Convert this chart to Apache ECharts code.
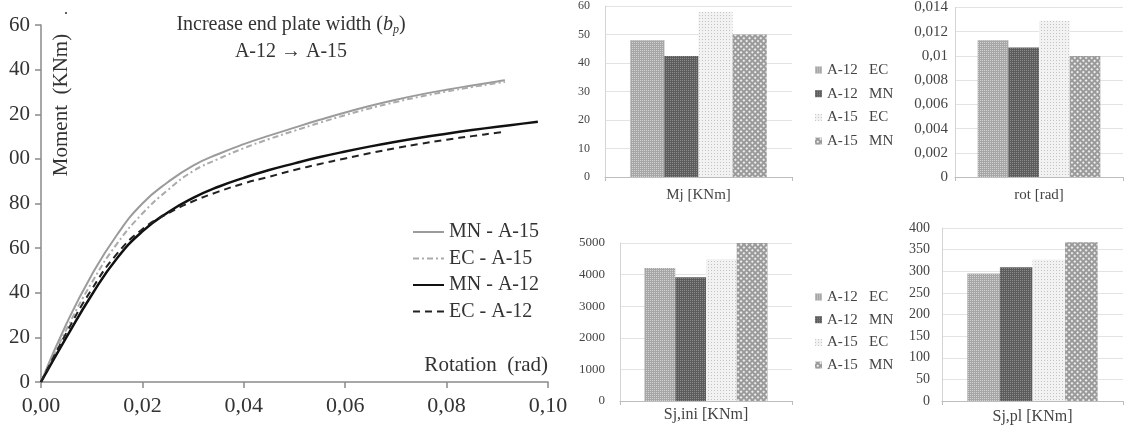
<!DOCTYPE html>
<html>
<head>
<meta charset="utf-8">
<script src="https://cdn.jsdelivr.net/npm/echarts@6.0.0/dist/echarts.min.js"></script>
<style>
  html, body { margin: 0; padding: 0; background: #fff; }
  #chart { width: 1131px; height: 438px; }
</style>
</head>
<body>
<div id="chart"></div>
<script>
// moment-rotation curves [rotation (rad), moment (KNm)]
var mnA15 = [[0,0],[0.005,26],[0.01,48],[0.015,66],[0.02,80],[0.025,89.5],[0.03,97],[0.035,102.2],[0.04,106.6],[0.045,110.4],[0.05,114],[0.055,117.5],[0.06,120.8],[0.065,123.8],[0.07,126.5],[0.075,128.9],[0.08,131],[0.085,132.9],[0.09,134.7],[0.0915,135.2]];
var ecA15 = [[0,0],[0.005,23.5],[0.01,44.5],[0.015,62],[0.02,75.5],[0.025,86],[0.03,94.5],[0.035,100],[0.04,104.8],[0.045,108.9],[0.05,112.6],[0.055,116.2],[0.06,119.6],[0.065,122.7],[0.07,125.5],[0.075,128],[0.08,130.2],[0.085,132.2],[0.09,134],[0.0915,134.5]];
var mnA12 = [[0,0],[0.005,20],[0.01,39],[0.015,55.5],[0.02,67.5],[0.025,76],[0.03,82.5],[0.035,87.5],[0.04,91.5],[0.045,95],[0.05,98],[0.055,100.8],[0.06,103.3],[0.065,105.6],[0.07,107.7],[0.075,109.6],[0.08,111.3],[0.085,112.9],[0.09,114.4],[0.095,115.8],[0.098,116.6]];
var ecA12 = [[0,0],[0.005,22],[0.01,41.5],[0.015,57.5],[0.02,68.5],[0.025,75.5],[0.03,81],[0.035,85.3],[0.04,89],[0.045,92],[0.05,95],[0.055,97.7],[0.06,100.2],[0.065,102.6],[0.07,104.8],[0.075,106.8],[0.08,108.6],[0.085,110.2],[0.09,111.7],[0.0915,112.1]];
var lineNames = ['MN - A-15', 'EC - A-15', 'MN - A-12', 'EC - A-12'];

// bar charts
var barNames = ['A-12   EC', 'A-12   MN', 'A-15   EC', 'A-15   MN'];
var barCategories = ['Mj [KNm]', 'rot [rad]', 'Sj,ini [KNm]', 'Sj,pl [KNm]'];
var mjValues = [48, 42.5, 58, 50];
var rotValues = [0.0113, 0.0107, 0.0129, 0.0100];
var sjIniValues = [4210, 3920, 4490, 5000];
var sjPlValues = [295, 309, 327, 367];

var serif = 'Liberation Serif';
var txt = '#333';

var barStyles = [
    {color: '#a6a6a6', decal: {symbol: 'rect', symbolSize: 1, color: '#d2d2d2', dashArrayX: [1, 1], dashArrayY: [1, 1]}},
    {color: '#5c5c5c', decal: {symbol: 'rect', symbolSize: 1, color: '#8c8c8c', dashArrayX: [1, 1], dashArrayY: [1, 1]}},
    {color: '#f2f2f2', decal: {symbol: 'rect', symbolSize: 1, color: '#c4c4c4', dashArrayX: [1, 2], dashArrayY: [1, 2]}},
    {color: '#9a9a9a', decal: {symbol: 'rect', symbolSize: 1, color: '#ececec', dashArrayX: [2, 2], dashArrayY: [2, 2], rotation: Math.PI / 4}}
];
var barGaps = ['27%', '27%', '28.5%', '28%'];

var chart = echarts.init(document.getElementById('chart'), null, {renderer: 'canvas'});

var grids = [
    {left: 41, right: 583, top: 25, bottom: 56},
    {left: 605, right: 339, top: 3, bottom: 261},
    {left: 955, right: 8, top: 3, bottom: 261},
    {left: 620, right: 339, top: 243, bottom: 37},
    {left: 942, right: 8, top: 228, bottom: 37}
];

var xAxes = [{
    type: 'value', gridIndex: 0, min: 0, max: 0.1, interval: 0.02,
    axisLine: {lineStyle: {color: '#8a8a8a', width: 1.5}},
    axisTick: {length: 6, lineStyle: {color: '#8a8a8a', width: 1.5}},
    splitLine: {show: false},
    axisLabel: {margin: 13, fontFamily: serif, fontSize: 22, color: txt,
        formatter: function (v) { return v.toFixed(2).replace('.', ','); }}
}];
var yAxes = [{
    type: 'value', gridIndex: 0, min: 0, max: 160, interval: 20,
    axisLine: {show: true, lineStyle: {color: '#8a8a8a', width: 1.5}},
    axisTick: {show: true, length: 6, lineStyle: {color: '#8a8a8a', width: 1.5}},
    splitLine: {show: false},
    axisLabel: {margin: 11, fontFamily: serif, fontSize: 21, color: txt,
        // the left edge of the figure cuts the leading "1" off 100..160
        formatter: function (v) { return v >= 100 ? String(v).slice(1) : String(v); }}
}];

var barAxisCfg = [
    {max: 60, interval: 10, size: 12, margin: 15, catSize: 15, catMargin: 11},
    {max: 0.014, interval: 0.002, size: 15, margin: 7, catSize: 15, catMargin: 11},
    {max: 5000, interval: 1000, size: 13, margin: 15, catSize: 16, catMargin: 6},
    {max: 400, interval: 50, size: 14, margin: 12, catSize: 16, catMargin: 8}
];
barAxisCfg.forEach(function (c, k) {
    xAxes.push({
        type: 'category', gridIndex: k + 1, data: [barCategories[k]],
        axisLine: {lineStyle: {color: '#bdbdbd'}},
        axisTick: {show: true, length: 4, lineStyle: {color: '#bdbdbd'}},
        axisLabel: {margin: c.catMargin, fontFamily: serif, fontSize: c.catSize, color: '#444'}
    });
    yAxes.push({
        type: 'value', gridIndex: k + 1, min: 0, max: c.max, interval: c.interval,
        axisLine: {show: true, lineStyle: {color: '#d4d4d4'}},
        axisTick: {show: false},
        splitLine: {lineStyle: {color: '#e3e3e3'}},
        axisLabel: {margin: c.margin, fontFamily: serif, fontSize: c.size, color: '#444',
            formatter: function (v) { return String(+v.toFixed(4)).replace('.', ','); }}
    });
});

function curve(name, data, color, width, dash, z) {
    return {
        name: name, type: 'line', data: data, smooth: true,
        symbol: 'circle', showSymbol: false,
        lineStyle: {color: color, width: width, type: dash}, itemStyle: {color: color}, z: z
    };
}
var series = [
    curve(lineNames[0], mnA15, '#9b9b9b', 2, 'solid', 3),
    curve(lineNames[1], ecA15, '#ababab', 2, [6, 3, 2, 3], 4),
    curve(lineNames[2], mnA12, '#111', 2.5, 'solid', 5),
    curve(lineNames[3], ecA12, '#222', 2, [7, 5], 6)
];

var barData = [mjValues, rotValues, sjIniValues, sjPlValues];
barData.forEach(function (vals, k) {
    barNames.forEach(function (name, i) {
        series.push({
            name: name, type: 'bar', xAxisIndex: k + 1, yAxisIndex: k + 1,
            data: [vals[i]], barGap: '0%', barCategoryGap: barGaps[k],
            itemStyle: barStyles[i]
        });
    });
});

var option = {
    animation: false,
    backgroundColor: '#fff',
    grid: grids,
    xAxis: xAxes,
    yAxis: yAxes,
    legend: [
        {data: lineNames, orient: 'vertical', left: 407, top: 217, itemWidth: 31, itemHeight: 14, itemGap: 6.5,
            itemStyle: {opacity: 0},
            textStyle: {fontFamily: serif, fontSize: 20, lineHeight: 20, color: txt}},
        {data: barNames, orient: 'vertical', left: 810, top: 57, icon: 'rect', itemWidth: 7, itemHeight: 7, itemGap: 7.7,
            textStyle: {fontFamily: serif, fontSize: 15, lineHeight: 16, color: '#444'}},
        {data: barNames, orient: 'vertical', left: 810, top: 284, icon: 'rect', itemWidth: 7, itemHeight: 7, itemGap: 6.7,
            textStyle: {fontFamily: serif, fontSize: 15, lineHeight: 16, color: '#444'}}
    ],
    graphic: [
        {type: 'text', x: 291, y: 25, style: {
            text: 'Increase end plate width ({i|b}{s|p})', fontFamily: serif, fontSize: 20, fill: txt,
            align: 'center', verticalAlign: 'middle',
            rich: {
                i: {fontFamily: serif, fontSize: 20, fontStyle: 'italic', fill: txt},
                s: {fontFamily: serif, fontSize: 12, fontStyle: 'italic', fill: txt, padding: [9, 0, 0, 0]}
            }}},
        {type: 'text', x: 291, y: 52, style: {text: 'A-12 \u2192 A-15', fontFamily: serif, fontSize: 20, fill: txt,
            align: 'center', verticalAlign: 'middle'}},
        {type: 'text', x: 61, y: 105, rotation: Math.PI / 2, style: {text: 'Moment  (KNm)', fontFamily: serif, fontSize: 21,
            fill: txt, align: 'center', verticalAlign: 'middle'}},
        {type: 'text', x: 63, y: 13, rotation: Math.PI / 2, style: {text: '.', fontFamily: serif, fontSize: 16,
            fill: txt, align: 'center', verticalAlign: 'middle'}},
        {type: 'text', x: 548, y: 365, style: {text: 'Rotation  (rad)', fontFamily: serif, fontSize: 21,
            fill: txt, align: 'right', verticalAlign: 'middle'}}
    ],
    series: series
};
chart.setOption(option);
</script>
</body>
</html>
